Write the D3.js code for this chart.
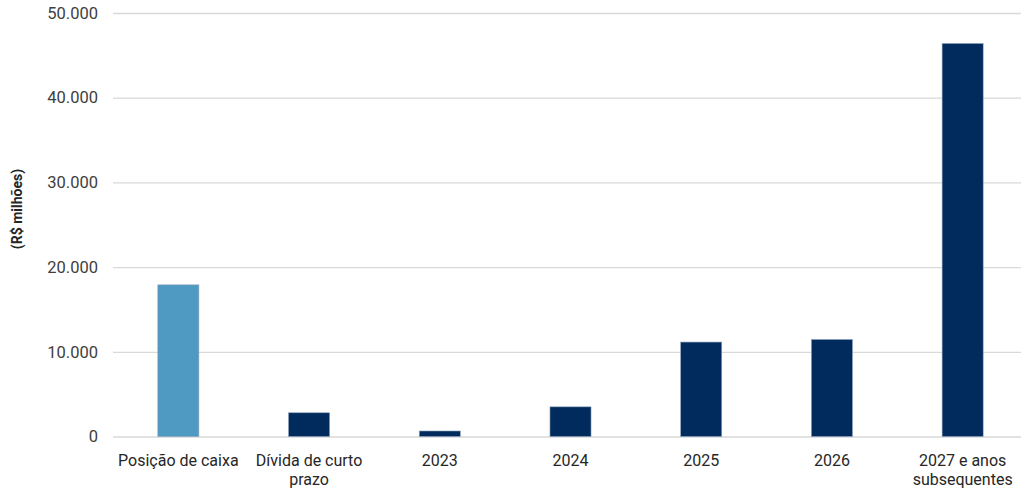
<!DOCTYPE html>
<html><head><meta charset="utf-8">
<script src="https://cdn.jsdelivr.net/npm/d3@7"></script>
<style>body{margin:0;background:#fff;}svg{display:block;}</style>
</head><body>
<svg id="c" width="1021" height="491"></svg>
<script>
const categories = ["Posição de caixa", "Dívida de curto prazo", "2023", "2024", "2025", "2026", "2027 e anos subsequentes"];
const labelLines = [["Posição de caixa"], ["Dívida de curto", "prazo"], ["2023"], ["2024"], ["2025"], ["2026"], ["2027 e anos", "subsequentes"]];
const values = [17900, 2800, 650, 3500, 11150, 11450, 46400];
const yTicks = [0, 10000, 20000, 30000, 40000, 50000];
const yTitle = "(R$ milhões)";

const svg = d3.select("#c");
const m = {left:113, right:1028, gridRight:1021, top:13, bottom:436.5};
const x = d3.scaleBand().domain(categories).range([m.left, m.right]).paddingInner(0.686).paddingOuter(0.343);
const y = d3.scaleLinear().domain([0, 50000]).range([m.bottom, m.top]);
const fmt = d3.formatLocale({decimal:",", thousands:".", grouping:[3], currency:["R$",""]}).format(",.0f");
const font = "Roboto, 'Liberation Sans', sans-serif";

const yAxis = d3.axisLeft(y).tickValues(yTicks).tickFormat(fmt).tickSize(-(m.gridRight-m.left)).tickPadding(15);
const gy = svg.append("g").attr("transform", `translate(${m.left},0)`).call(yAxis);
gy.select(".domain").remove();
gy.selectAll(".tick line").attr("stroke", "#d9d9d9").attr("stroke-width", 1.3);
gy.selectAll(".tick text").attr("font-family", font).attr("font-size", 16.5).attr("fill", "#404040");

const color = (d,i) => i === 0 ? "#4F9AC2" : "#002B5C";
svg.append("g").selectAll("rect").data(values).join("rect")
  .attr("x", (d,i) => x(categories[i]))
  .attr("width", x.bandwidth())
  .attr("y", d => y(d))
  .attr("height", d => y(0) - y(d))
  .attr("fill", color)
  .attr("stroke", "#8aa0b8").attr("stroke-width", 0.6);

const gx = svg.append("g");
categories.forEach((c,i) => {
  const cx = x(c) + x.bandwidth()/2;
  const t = gx.append("text").attr("x", cx).attr("y", 466)
    .attr("text-anchor", "middle").attr("font-family", font).attr("font-size", 16).attr("fill", "#262626");
  labelLines[i].forEach((l,j) => t.append("tspan").attr("x", cx).attr("dy", j === 0 ? 0 : 19).text(l));
});

svg.append("text").attr("transform", "translate(22,209) rotate(-90)")
  .attr("text-anchor", "middle").attr("font-family", font).attr("font-size", 14).attr("font-weight", "bold")
  .attr("fill", "#262626").text(yTitle);
</script>
</body></html>
